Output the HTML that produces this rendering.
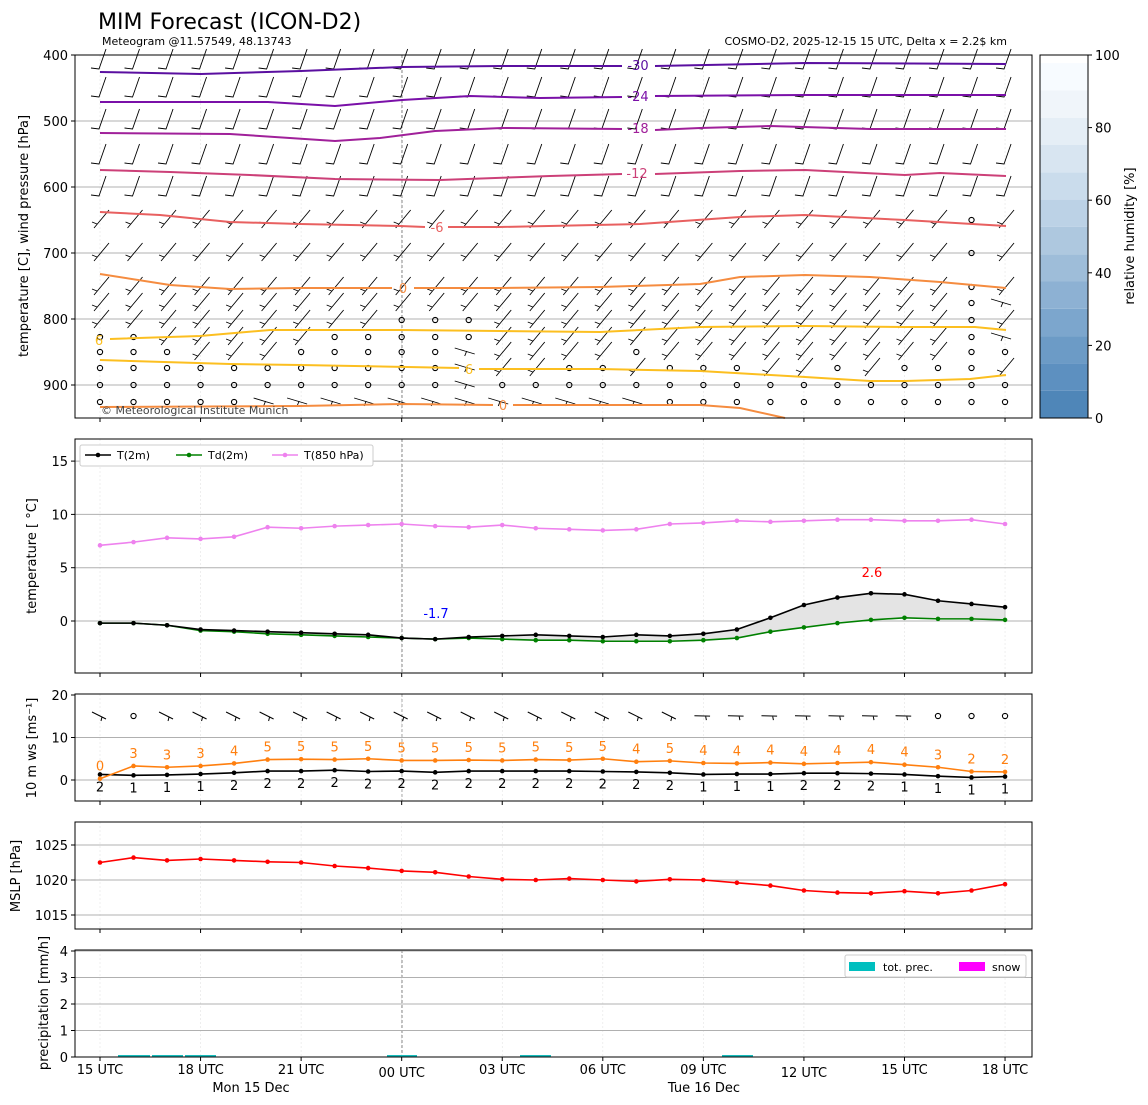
<!DOCTYPE html>
<html><head><meta charset="utf-8"><style>
body{margin:0;background:#fff}
svg{display:block;font-family:"DejaVu Sans","Liberation Sans",sans-serif}
</style></head><body>
<svg id="s" width="1148" height="1105" xmlns="http://www.w3.org/2000/svg">
<text x="98" y="29" font-size="22">MIM Forecast (ICON-D2)</text>
<text x="102" y="45" font-size="11">Meteogram @11.57549, 48.13743</text>
<text x="1007" y="45" font-size="11" text-anchor="end">COSMO-D2, 2025-12-15 15 UTC, Delta x = 2.2$ km</text>
<text x="28" y="236" font-size="13" transform="rotate(-90 28 236)" text-anchor="middle">temperature [C], wind pressure [hPa]</text>
<text x="36" y="556" font-size="13" transform="rotate(-90 36 556)" text-anchor="middle">temperature [ °C]</text>
<text x="36" y="748" font-size="13" transform="rotate(-90 36 748)" text-anchor="middle">10 m ws [ms⁻¹]</text>
<text x="20" y="876" font-size="13" transform="rotate(-90 20 876)" text-anchor="middle">MSLP [hPa]</text>
<text x="48" y="1003" font-size="13" transform="rotate(-90 48 1003)" text-anchor="middle">precipitation [mm/h]</text>
<text x="1134" y="236" font-size="13" transform="rotate(-90 1134 236)" text-anchor="middle">relative humidity [%]</text>
<g id="g"></g>
</svg>
<script>
const NS="http://www.w3.org/2000/svg",G=document.getElementById('g');
function el(t,a,txt){const e=document.createElementNS(NS,t);for(const k in a)e.setAttribute(k,a[k]);if(txt!==undefined)e.textContent=txt;G.appendChild(e);return e;}
const X=i=>100+33.52*i;
const L=75,R=1032;
const panels=[[55,418],[439,673],[694,801],[822,929],[950,1057]];
panels.forEach(([t,b])=>{for(let i=0;i<28;i+=3)el('line',{x1:X(i),x2:X(i),y1:t,y2:b,stroke:'#e4e4e4','stroke-width':0.6,'stroke-dasharray':'2,2'});});
[[55,418],[439,673],[950,1057]].forEach(([t,b])=>el('line',{x1:402,x2:402,y1:t,y2:b,stroke:'#555','stroke-width':0.7,'stroke-dasharray':'3,2'}));
el('line',{x1:402,x2:402,y1:694,y2:801,stroke:'#888','stroke-width':0.7,'stroke-dasharray':'3,2'});
const yP=p=>55+(p-400)*0.66;
[400,500,600,700,800,900].forEach(p=>{if(p>400)el('line',{x1:L,x2:R,y1:yP(p),y2:yP(p),stroke:'#b0b0b0','stroke-width':1});el('text',{x:68,y:yP(p)+5,'font-size':13,'text-anchor':'end'},p);el('line',{x1:71,x2:75,y1:yP(p),y2:yP(p),stroke:'#000'});});
const rowsY=[60,88,120,155,187,220,253,287,303,320,337,352,368,385,402];
const rowS={
320:'bbbbbbbbbooobbbbbbbbbbbbbbob',
337:'oobbbbbooooobbbbbbbbbbbbbboh',
352:'ooobbbooooohbbbbobbbbbbbbboo',
368:'ooooooooooohbboobooobbobooo',
385:'oooooooooooh'+'oooooooooooooooo',
402:'ooooohhhhhhhhhhhhoooooooooooo',
303:'bbbbbbbbbbbbbbbbbbbbbbbbbboh',
287:'bbbbbbbbbbbbbbbbbbbbbbbbbbob',
253:'bbbbbbbbbbbbbbbbbbbbbbbbbbob',
220:'bbbbbbbbbbbbbbbbbbbbbbbbbbob'};
rowsY.forEach(y=>{const s=rowS[y]||'';
 for(let i=0;i<28;i++){const c=s[i]||'b',x=X(i);
  if(c==='o')el('circle',{cx:x,cy:y,r:2.6,fill:'none',stroke:'#000','stroke-width':1.1});
  else if(c==='h'){el('path',{d:`M${x-14} ${y-4}L${x+6} ${y+2}M${x-2} ${y-1}l-2 5`,stroke:'#000','stroke-width':0.9,fill:'none'});}
  else{const up=y<200;el('path',{d:up?`M${x+6} ${y-11}L${x-1} ${y+9}L${x-9} ${y+8}`:`M${x+9} ${y-10}L${x-6} ${y+8}M${x-3} ${y+4}l-5 -2`,stroke:'#000','stroke-width':0.9,fill:'none'});}
 }});
function line(pts,col,w){el('polyline',{points:pts.map(p=>p.join(',')).join(' '),fill:'none',stroke:col,'stroke-width':w||2});}
line([[100,72],[201,74],[301,71],[402,67],[502,66],[603,66],[622,66]],'#5a0fa0');line([[655,66],[805,63],[1006,64]],'#5a0fa0');
line([[100,102],[268,102],[335,106],[402,100],[470,96],[540,98],[622,97]],'#7a10a8');line([[655,96],[805,95],[1006,95]],'#7a10a8');
line([[100,133],[230,134],[335,141],[380,138],[435,131],[502,128],[622,129]],'#a0209a');line([[655,130],[700,128],[770,126],[870,129],[1006,129]],'#a0209a');
line([[100,170],[170,172],[250,175],[335,179],[440,180],[550,176],[622,174]],'#cc4078');line([[655,174],[740,171],[805,170],[905,175],[940,173],[1006,176]],'#cc4078');
line([[100,212],[160,215],[230,222],[300,224],[400,226],[425,227]],'#e86060');line([[448,227],[500,227],[640,224],[740,217],[805,215],[905,220],[1006,226]],'#e86060');
line([[100,274],[170,285],[230,289],[300,288],[392,288]],'#f58c40');line([[414,288],[500,288],[600,287],[700,284],[740,277],[805,275],[870,277],[940,282],[1006,288]],'#f58c40');
line([[110,339],[200,336],[270,330],[400,330],[500,331],[600,332],[700,327],[805,326],[905,327],[975,327],[1006,330]],'#fcbf20');
line([[100,360],[230,364],[300,365],[459,368]],'#fcbf20');line([[479,369],[600,369],[700,371],[805,377],[870,381],[905,381],[970,379],[1006,375]],'#fcbf20');
line([[100,407],[300,406],[402,404],[493,405]],'#f58c40');line([[513,405],[600,405],[700,405],[740,408],[785,418]],'#f58c40');
[['-30',638,70,'#5a0fa0'],['-24',638,101,'#7a10a8'],['-18',638,133,'#a0209a'],['-12',637,178,'#cc4078'],['-6',437,232,'#e86060'],['0',403,293,'#f58c40'],['6',99,345,'#fcbf20'],['6',469,374,'#fcbf20'],['0',503,410,'#f58c40']].forEach(a=>el('text',{x:a[1],y:a[2],'font-size':13,fill:a[3],'text-anchor':'middle'},a[0]));
el('text',{x:101,y:414,'font-size':11,fill:'#444'},'© Meteorological Institute Munich');
const cb=['#4f86b8','#5d90c0','#6c9bc6','#7ca6cd','#8db1d3','#9ebdd9','#aec8df','#bcd2e6','#cadcec','#d8e5f1','#e5eef6','#f0f5fa','#f7fbff'];
for(let k=0;k<13;k++){const yt=Math.max(55,418-(k+1)*27.3);el('rect',{x:1040,y:yt,width:48,height:418-k*27.3-yt,fill:cb[k]});}
el('rect',{x:1040,y:55,width:48,height:363,fill:'none',stroke:'#000'});
[0,20,40,60,80,100].forEach(v=>{const y=418-v*3.63;el('line',{x1:1088,x2:1092,y1:y,y2:y,stroke:'#000'});el('text',{x:1095,y:y+5,'font-size':13},v);});
const y2=v=>621-v*10.66;
[0,5,10,15].forEach(v=>{el('line',{x1:L,x2:R,y1:y2(v),y2:y2(v),stroke:'#b0b0b0'});el('text',{x:68,y:y2(v)+5,'font-size':13,'text-anchor':'end'},v);el('line',{x1:71,x2:75,y1:y2(v),y2:y2(v),stroke:'#000'});});
const T85=[7.1,7.4,7.8,7.7,7.9,8.8,8.7,8.9,9.0,9.1,8.9,8.8,9.0,8.7,8.6,8.5,8.6,9.1,9.2,9.4,9.3,9.4,9.5,9.5,9.4,9.4,9.5,9.1];
const T2=[-0.2,-0.2,-0.4,-0.8,-0.9,-1.0,-1.1,-1.2,-1.3,-1.6,-1.7,-1.5,-1.4,-1.3,-1.4,-1.5,-1.3,-1.4,-1.2,-0.8,0.3,1.5,2.2,2.6,2.5,1.9,1.6,1.3];
const TD=[-0.2,-0.2,-0.4,-0.9,-1.0,-1.2,-1.3,-1.4,-1.5,-1.6,-1.7,-1.6,-1.7,-1.8,-1.8,-1.9,-1.9,-1.9,-1.8,-1.6,-1.0,-0.6,-0.2,0.1,0.3,0.2,0.2,0.1];
el('polygon',{points:T2.map((v,i)=>X(i)+','+y2(v)).concat(TD.map((v,i)=>X(i)+','+y2(v)).reverse()).join(' '),fill:'#e4e4e4',stroke:'#999','stroke-width':0.5});
function series(d,f,col,w,r){el('polyline',{points:d.map((v,i)=>X(i)+','+f(v)).join(' '),fill:'none',stroke:col,'stroke-width':w});d.forEach((v,i)=>el('circle',{cx:X(i),cy:f(v),r:r,fill:col}));}
series(T85,y2,'#ee82ee',1.6,2.3);series(TD,y2,'green',1.6,2.3);series(T2,y2,'black',1.6,2.3);
el('text',{x:436,y:618,'font-size':13,fill:'blue','text-anchor':'middle'},'-1.7');
el('text',{x:872,y:577,'font-size':13,fill:'red','text-anchor':'middle'},'2.6');
el('rect',{x:80,y:445,width:293,height:21,fill:'#fff',stroke:'#ccc',rx:2});
[[85,'black','T(2m)'],[176,'green','Td(2m)'],[272,'#ee82ee','T(850 hPa)']].forEach(a=>{el('line',{x1:a[0],x2:a[0]+26,y1:455,y2:455,stroke:a[1],'stroke-width':1.6});el('circle',{cx:a[0]+13,cy:455,r:2.3,fill:a[1]});el('text',{x:a[0]+32,y:459,'font-size':11},a[2]);});
const y3=v=>780-v*4.25;
[0,10,20].forEach(v=>{if(v<20)el('line',{x1:L,x2:R,y1:y3(v),y2:y3(v),stroke:'#b0b0b0'});el('text',{x:68,y:y3(v)+5,'font-size':13,'text-anchor':'end'},v);el('line',{x1:71,x2:75,y1:y3(v),y2:y3(v),stroke:'#000'});});
for(let i=0;i<28;i++){const x=X(i),y=716;if([1,25,26,27].includes(i))el('circle',{cx:x,cy:y,r:2.6,fill:'none',stroke:'#000','stroke-width':1.1});
 else{el('path',{d:`M${x-8} ${y-4}L${x+6} ${y+3}M${x+2} ${y+1}l-1 4`,stroke:'#000','stroke-width':1,fill:'none',transform:`rotate(${i>17?-25:0} ${x} ${y})`});}}
const GU=[0.3,3.3,3.0,3.3,3.9,4.8,4.9,4.8,5.0,4.6,4.6,4.7,4.6,4.8,4.7,5.0,4.3,4.5,4.0,3.9,4.1,3.8,4.0,4.2,3.6,3.0,2.0,1.9];
const GL='0333455555555555454444444322';
const WM=[1.3,1.1,1.2,1.4,1.7,2.1,2.1,2.3,2.0,2.1,1.8,2.1,2.1,2.1,2.1,2.0,1.9,1.7,1.3,1.4,1.4,1.6,1.6,1.5,1.3,0.9,0.6,0.8];
const WL='2111222222222222221112221111';
series(WM,y3,'black',1.6,2.3);series(GU,y3,'#ff7f0e',1.6,2.3);
for(let i=0;i<28;i++){el('text',{x:X(i),y:y3(GU[i])-8,'font-size':13,fill:'#ff7f0e','text-anchor':'middle'},GL[i]);el('text',{x:X(i),y:y3(WM[i])+17,'font-size':13,'text-anchor':'middle'},WL[i]);}
const y4=v=>845-(v-1025)*7;
[1015,1020,1025].forEach(v=>{el('line',{x1:L,x2:R,y1:y4(v),y2:y4(v),stroke:'#b0b0b0'});el('text',{x:68,y:y4(v)+5,'font-size':13,'text-anchor':'end'},v);el('line',{x1:71,x2:75,y1:y4(v),y2:y4(v),stroke:'#000'});});
const MS=[1022.5,1023.2,1022.8,1023.0,1022.8,1022.6,1022.5,1022.0,1021.7,1021.3,1021.1,1020.5,1020.1,1020.0,1020.2,1020.0,1019.8,1020.1,1020.0,1019.6,1019.2,1018.5,1018.2,1018.1,1018.4,1018.1,1018.5,1019.4];
series(MS,y4,'red',1.6,2.3);
const y5=v=>1057-v*26.5;
[0,1,2,3,4].forEach(v=>{if(v>0)el('line',{x1:L,x2:R,y1:y5(v),y2:y5(v),stroke:'#b0b0b0'});el('text',{x:68,y:y5(v)+5,'font-size':13,'text-anchor':'end'},v);el('line',{x1:71,x2:75,y1:y5(v),y2:y5(v),stroke:'#000'});});
[[118,150],[152,183],[185,216],[387,417],[520,551],[722,753]].forEach(a=>el('rect',{x:a[0],y:1055,width:a[1]-a[0],height:2,fill:'#17bcbc'}));
el('rect',{x:845,y:955,width:181,height:22,fill:'#fff',stroke:'#ccc',rx:2});
el('rect',{x:849,y:962,width:26,height:9,fill:'#00bfbf'});el('text',{x:883,y:971,'font-size':11},'tot. prec.');
el('rect',{x:959,y:962,width:26,height:9,fill:'#ff00ff'});el('text',{x:992,y:971,'font-size':11},'snow');
panels.forEach(([t,b])=>{el('rect',{x:L,y:t,width:R-L,height:b-t,fill:'none',stroke:'#000','stroke-width':1});for(let i=0;i<28;i+=3)el('line',{x1:X(i),x2:X(i),y1:b,y2:b+4,stroke:'#000'});});
['15 UTC','18 UTC','21 UTC','00 UTC','03 UTC','06 UTC','09 UTC','12 UTC','15 UTC','18 UTC'].forEach((s,k)=>el('text',{x:X(k*3),y:(k==3||k==7)?1077:1074,'font-size':13,'text-anchor':'middle'},s));
el('text',{x:251,y:1092,'font-size':13,'text-anchor':'middle'},'Mon 15 Dec');
el('text',{x:704,y:1092,'font-size':13,'text-anchor':'middle'},'Tue 16 Dec');
</script>
</body></html>
